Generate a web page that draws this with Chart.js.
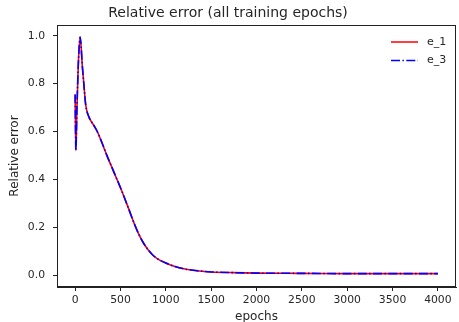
<!DOCTYPE html>
<html>
<head>
<meta charset="utf-8">
<script src="https://cdn.jsdelivr.net/npm/chart.js@4.4.0/dist/chart.umd.min.js"></script>
<style>
  html, body { margin: 0; padding: 0; background: #fff; }
  #wrap { width: 459px; height: 322px; }
</style>
</head>
<body>
<div id="wrap"><canvas id="canvas" width="459" height="322"></canvas></div>
<script>
// training history, sampled epochs
const epochs = [0, 8, 20, 35, 55, 80, 100, 117, 153, 207, 244, 280, 317, 353, 400, 450, 500, 550, 600, 650, 700, 750, 800, 850, 900, 1000, 1100, 1200, 1300, 1400, 1500, 1750, 2000, 2500, 3000, 3500, 4000];
const e1 = [0.755, 0.52, 0.70, 0.88, 0.995, 0.87, 0.78, 0.71, 0.66, 0.625, 0.60, 0.568, 0.532, 0.497, 0.455, 0.41, 0.365, 0.317, 0.267, 0.217, 0.172, 0.136, 0.108, 0.086, 0.07, 0.05, 0.036, 0.026, 0.02, 0.016, 0.013, 0.010, 0.008, 0.007, 0.006, 0.006, 0.006];
const e3 = [0.755, 0.52, 0.70, 0.88, 0.995, 0.87, 0.78, 0.71, 0.66, 0.625, 0.60, 0.568, 0.532, 0.497, 0.455, 0.41, 0.365, 0.317, 0.267, 0.217, 0.172, 0.136, 0.108, 0.086, 0.07, 0.05, 0.036, 0.026, 0.02, 0.016, 0.013, 0.010, 0.008, 0.007, 0.006, 0.006, 0.006];
const xTicks = [0, 500, 1000, 1500, 2000, 2500, 3000, 3500, 4000];
const yTicks = [0, 0.2, 0.4, 0.6, 0.8, 1.0];

const FONT = "'DejaVu Sans', sans-serif";
const TEXT = "#262626";
const DASHDOT = [9, 2.4, 1.5, 2.4];

function points(ys) {
  return epochs.map((x, i) => ({ x: x, y: ys[i] }));
}

// box around the axes + legend in the upper right
const framePlugin = {
  id: "frame",
  afterDraw(chart) {
    const ctx = chart.ctx;
    const a = chart.chartArea;
    ctx.save();
    ctx.strokeStyle = "#222";
    ctx.lineWidth = 1;
    ctx.strokeRect(a.left + 0.5, a.top + 0.5, a.right - a.left - 1, a.bottom - a.top - 1);

    const items = [
      { label: "e_1", color: "#ff0000", dash: [] },
      { label: "e_3", color: "#0000ff", dash: DASHDOT }
    ];
    ctx.font = "11px " + FONT;
    ctx.textBaseline = "middle";
    items.forEach((it, i) => {
      const y = 42 + i * 18.5;
      ctx.strokeStyle = it.color;
      ctx.lineWidth = 1.5;
      ctx.setLineDash(it.dash);
      ctx.beginPath();
      ctx.moveTo(391, y);
      ctx.lineTo(418, y);
      ctx.stroke();
      ctx.setLineDash([]);
      ctx.fillStyle = TEXT;
      ctx.fillText(it.label, 427, y);
    });
    ctx.restore();
  }
};

const ctx = document.getElementById("canvas").getContext("2d");
const myChart = new Chart(ctx, {
  type: "line",
  data: {
    datasets: [
      {
        label: "e_1",
        data: points(e1),
        borderColor: "#ff0000",
        borderWidth: 1.6,
        pointRadius: 0,
        cubicInterpolationMode: "monotone",
        fill: false,
        order: 1
      },
      {
        label: "e_3",
        data: points(e3),
        borderColor: "#0000ff",
        borderWidth: 1.6,
        borderDash: DASHDOT,
        pointRadius: 0,
        cubicInterpolationMode: "monotone",
        fill: false,
        order: 0
      }
    ]
  },
  options: {
    responsive: false,
    animation: false,
    layout: { padding: { left: 0, right: 3, top: 0, bottom: 0 } },
    plugins: {
      legend: { display: false },
      tooltip: { enabled: false },
      title: {
        display: true,
        text: "Relative error (all training epochs)",
        color: TEXT,
        font: { family: FONT, size: 14, weight: "normal", lineHeight: 1.2 },
        padding: { top: 5, bottom: 3.2 }
      }
    },
    scales: {
      x: {
        type: "linear",
        min: -200,
        max: 4200,
        afterBuildTicks: (scale) => { scale.ticks = xTicks.map(v => ({ value: v })); },
        afterFit: (scale) => { scale.height = 35; },
        grid: { drawOnChartArea: false, drawTicks: true, tickLength: 4, color: "#222" },
        border: { color: "#222" },
        ticks: {
          color: TEXT,
          font: { family: FONT, size: 10.8 },
          padding: 3,
          maxRotation: 0,
          callback: (v) => String(v)
        },
        title: {
          display: true,
          text: "epochs",
          color: TEXT,
          font: { family: FONT, size: 12, lineHeight: 1.2 },
          padding: { top: 0, bottom: -2.5 }
        }
      },
      y: {
        min: -0.05,
        max: 1.045,
        afterBuildTicks: (scale) => { scale.ticks = yTicks.map(v => ({ value: v })); },
        afterFit: (scale) => { scale.width = 57; },
        grid: { drawOnChartArea: false, drawTicks: true, tickLength: 4, color: "#222" },
        border: { color: "#222" },
        ticks: {
          color: TEXT,
          font: { family: FONT, size: 10.8 },
          padding: 8,
          callback: (v) => v.toFixed(1)
        },
        title: {
          display: true,
          text: "Relative error",
          color: TEXT,
          font: { family: FONT, size: 12, lineHeight: 1.2 },
          padding: { top: 7.6, bottom: 0 }
        }
      }
    }
  },
  plugins: [framePlugin]
});
</script>
</body>
</html>
